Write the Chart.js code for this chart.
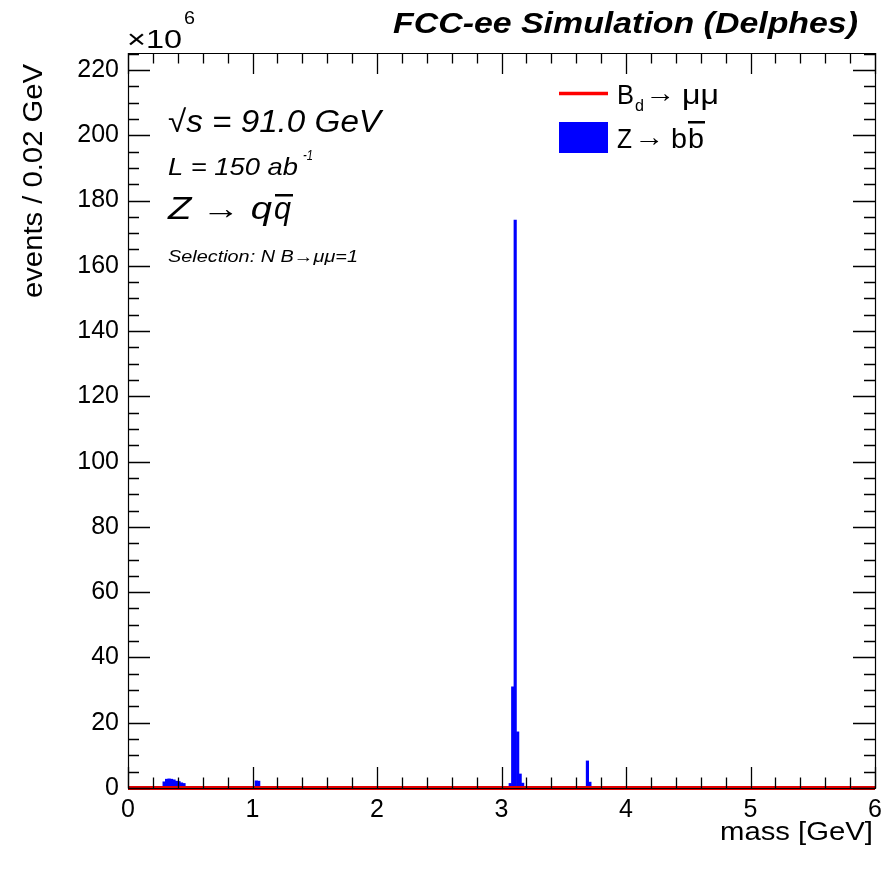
<!DOCTYPE html>
<html><head><meta charset="utf-8">
<script src="https://cdn.jsdelivr.net/npm/chart.js@4.4.1/dist/chart.umd.min.js"></script>
<style>html,body{margin:0;padding:0;background:#fff;}#wrap{width:893px;height:875px;}</style>
</head><body><div id="wrap"><canvas id="c" width="893" height="875"></canvas></div>
<script>
// ---- data (events in units of 10^6 per 0.02 GeV bin) ----
const binWidth = 0.02;
const massMin = 0;
const massMax = 6;
const yAxisMax = 225.2;
// Z -> b bbar : lower bin edges [GeV] of non-empty bins and their contents
const bbBinLow  = [0.28, 0.30, 0.32, 0.34, 0.36, 0.38, 0.40, 0.42, 0.44, 1.02, 1.04, 3.06, 3.08, 3.10, 3.12, 3.14, 3.16, 3.68, 3.70];
const bbValues  = [1.9,  2.7,  2.8,  2.7,  2.5,  2.1,  2.0,  1.6,  1.4,  2.2,  2.1,  1.4,  31,   174,  17.2, 4.3,  1.5,  8.3,  1.8];
// B_d -> mu mu : invisible at this scale (zero everywhere)
const bdMass    = [0, 6];
const bdValues  = [0, 0];
const xTickStep = 1, xMinorStep = 0.2;
const yTickStep = 20, yMinorStep = 5;

// build histogram table from the named arrays
const nBins = Math.round((massMax - massMin) / binWidth);
const bbCounts = new Array(nBins).fill(0);
bbBinLow.forEach((lo, i) => { bbCounts[Math.round((lo - massMin) / binWidth)] = bbValues[i]; });
const bbData = bbCounts.map((v, k) => ({ x: massMin + (k + 0.5) * binWidth, y: v }));
const bdData = bdMass.map((m, i) => ({ x: m, y: bdValues[i] }));

function drawFit(ctx, s, x, y, font, width) {
  ctx.save();
  ctx.font = font; ctx.textBaseline = 'alphabetic'; ctx.textAlign = 'left';
  const w = ctx.measureText(s).width;
  const sx = width ? width / w : 1;
  ctx.translate(x, y); ctx.scale(sx, 1);
  ctx.fillText(s, 0, 0);
  ctx.restore();
  return x + w * sx;
}

const framePlugin = {
  id: 'frame',
  afterDatasetsDraw(chart) {
    const ctx = chart.ctx, a = chart.chartArea;
    const xs = chart.scales.x, ys = chart.scales.y;
    ctx.save();
    ctx.strokeStyle = '#000'; ctx.lineWidth = 1.2;
    ctx.beginPath();
    ctx.rect(a.left + 0.5, a.top + 0.5, a.right - a.left, a.bottom - a.top);
    ctx.stroke();
    ctx.lineWidth = 1.3;
    ctx.beginPath();
    const nx = Math.round((massMax - massMin) / xMinorStep);
    for (let i = 0; i <= nx; i++) {
      const v = massMin + i * xMinorStep;
      const major = Math.abs(v / xTickStep - Math.round(v / xTickStep)) < 1e-6;
      const L = major ? 21 : 10.5;
      const px = Math.round(xs.getPixelForValue(v)) + 0.5;
      ctx.moveTo(px, a.bottom); ctx.lineTo(px, a.bottom - L);
      ctx.moveTo(px, a.top); ctx.lineTo(px, a.top + L);
    }
    const ny = Math.floor(yAxisMax / yMinorStep);
    for (let i = 0; i <= ny; i++) {
      const v = i * yMinorStep;
      const major = v % yTickStep === 0;
      const L = major ? 22 : 11;
      const py = Math.round(ys.getPixelForValue(v)) + 0.5;
      ctx.moveTo(a.left, py); ctx.lineTo(a.left + L, py);
      ctx.moveTo(a.right, py); ctx.lineTo(a.right - L, py);
    }
    ctx.stroke();
    // red B_d line drawn over the axis like ROOT does
    ctx.restore();
  },
  afterDraw(chart) {
    const ctx = chart.ctx;
    ctx.save();
    ctx.fillStyle = '#000';
    const F = 'Liberation Sans';
    // exponent
    drawFit(ctx, '\u00d710', 127, 48, `25px ${F}`, 55);
    drawFit(ctx, '6', 184, 24, `18px ${F}`, 11);
    // title
    drawFit(ctx, 'FCC-ee Simulation (Delphes)', 393, 33, `italic bold 29px ${F}`, 465);
    // axis titles
    ctx.save();
    ctx.translate(42, 298); ctx.rotate(-Math.PI / 2);
    drawFit(ctx, 'events / 0.02 GeV', 0, 0, `27px ${F}`, 234);
    ctx.restore();
    drawFit(ctx, 'mass [GeV]', 720, 840, `26px ${F}`, 153);
    // labels inside the frame
    drawFit(ctx, '\u221As = 91.0 GeV', 168, 132, `italic 31px ${F}`, 213);
    let e = drawFit(ctx, 'L = 150 ab', 168, 175, `italic 24px ${F}`, 130);
    drawFit(ctx, '-1', e + 5, 160, `italic 15px ${F}`, 10);
    e = drawFit(ctx, 'Z \u2192 q', 168, 219, `italic 31px ${F}`, 104);
    const qs = e + 2;
    e = drawFit(ctx, 'q', qs, 219, `italic 31px ${F}`, 17);
    ctx.fillRect(qs + 1, 194, e - qs + 1, 2.5);
    drawFit(ctx, 'Selection: N B\u2192\u03bc\u03bc=1', 168, 262, `italic 16px ${F}`, 190);
    // legend
    ctx.strokeStyle = '#ff0000'; ctx.lineWidth = 3.5;
    ctx.beginPath(); ctx.moveTo(559, 93.5); ctx.lineTo(608, 93.5); ctx.stroke();
    ctx.fillStyle = '#0000ff';
    ctx.fillRect(559, 122, 49, 31);
    ctx.fillStyle = '#000';
    e = drawFit(ctx, 'B', 617, 104, `27px ${F}`, 17);
    e = drawFit(ctx, 'd', e + 1, 111, `17px ${F}`, 9);
    e = drawFit(ctx, '\u2192', e + 1, 102, `27px ${F}`, 30);
    drawFit(ctx, '\u03bc\u03bc', e + 7, 104, `27px ${F}`, 37);
    e = drawFit(ctx, 'Z', 617, 148, `27px ${F}`, 15);
    e = drawFit(ctx, '\u2192', e + 2, 146, `27px ${F}`, 30);
    e = drawFit(ctx, 'b', e + 7, 148, `27px ${F}`, 16);
    const bs = e + 1;
    e = drawFit(ctx, 'b', bs, 148, `27px ${F}`, 16);
    ctx.fillRect(bs, 121, e - bs + 1, 2.5);
    ctx.restore();
  }
};

const tickFont = { family: 'Liberation Sans', size: 25 };
new Chart(document.getElementById('c'), {
  type: 'bar',
  data: {
    datasets: [
      { type: 'bar', label: 'Z\u2192 bb\u0304', data: bbData, backgroundColor: '#0000ff', borderWidth: 0,
        barPercentage: 1, categoryPercentage: 1, order: 2 },
      { type: 'line', label: 'B_d\u2192 \u03bc\u03bc', data: bdData, borderColor: '#e00000', borderWidth: 4,
        pointRadius: 0, tension: 0, fill: false, order: 0, clip: 4 }
    ]
  },
  options: {
    responsive: false, animation: false, devicePixelRatio: 1,
    layout: { padding: { top: 53, right: 18, left: 0, bottom: 0 } },
    plugins: { legend: { display: false }, tooltip: { enabled: false } },
    scales: {
      x: {
        type: 'linear', min: massMin, max: massMax, offset: false,
        grid: { display: false, drawTicks: false }, border: { display: false },
        ticks: { stepSize: xTickStep, font: tickFont, color: '#000', padding: 7, maxRotation: 0, autoSkip: false, includeBounds: false },
        afterFit: s => { s.height = 87; }
      },
      y: {
        type: 'linear', min: 0, max: yAxisMax,
        grid: { display: false, drawTicks: false }, border: { display: false },
        ticks: { stepSize: yTickStep, font: tickFont, color: '#000', padding: 9, includeBounds: false },
        afterFit: s => { s.width = 128; }
      }
    }
  },
  plugins: [framePlugin]
});
</script>
</body></html>
